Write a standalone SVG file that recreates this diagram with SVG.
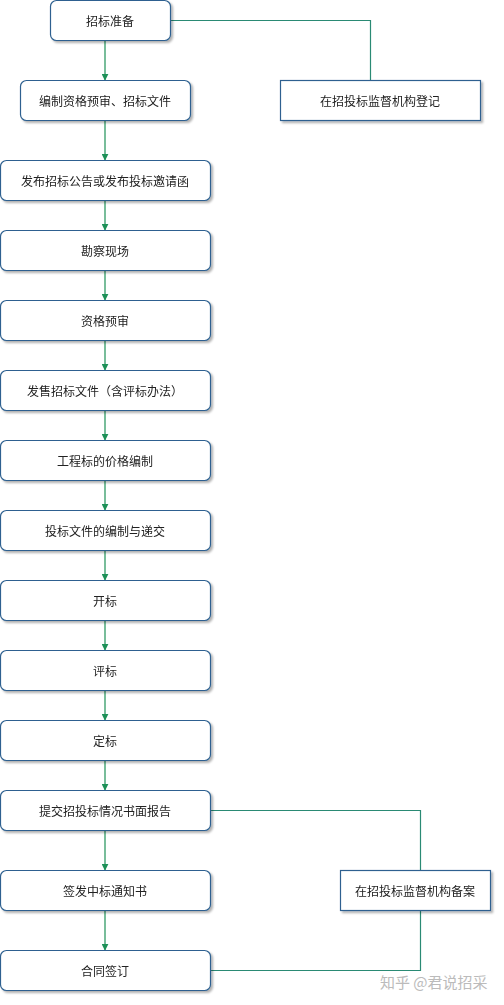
<svg xmlns="http://www.w3.org/2000/svg" width="504" height="1005" viewBox="0 0 504 1005">
<style>
.b{fill:#fff;stroke:#2f6190;stroke-width:1.2}
.t{font-family:"Noto Sans CJK SC","Liberation Sans",sans-serif;font-size:12px;fill:#222;text-anchor:middle;dominant-baseline:central}
.a{stroke:#1e9158;stroke-width:1.2;fill:none}
.s{stroke:#2a8a74;stroke-width:1.2;fill:none}
.w{font-family:"Noto Sans CJK SC",sans-serif;font-size:15px;fill:#bbb}
</style>
<defs>
<marker id="ar" viewBox="0 0 10 10" refX="9" refY="5" markerWidth="7" markerHeight="7" orient="auto" markerUnits="userSpaceOnUse"><path d="M0,0L10,5L0,10z" fill="#1e9158"/></marker>
<filter id="sh" x="-10%" y="-20%" width="120%" height="150%"><feDropShadow dx="2" dy="2" stdDeviation="1.2" flood-color="#000" flood-opacity="0.3"/></filter>
</defs>
<rect width="504" height="1005" fill="#fff"/>
<g id="connectors">
<line class="a" x1="105" y1="41" x2="105" y2="80" marker-end="url(#ar)"/>
<line class="a" x1="105" y1="121" x2="105" y2="160" marker-end="url(#ar)"/>
<line class="a" x1="105" y1="201" x2="105" y2="230" marker-end="url(#ar)"/>
<line class="a" x1="105" y1="271" x2="105" y2="300" marker-end="url(#ar)"/>
<line class="a" x1="105" y1="341" x2="105" y2="370" marker-end="url(#ar)"/>
<line class="a" x1="105" y1="411" x2="105" y2="440" marker-end="url(#ar)"/>
<line class="a" x1="105" y1="481" x2="105" y2="510" marker-end="url(#ar)"/>
<line class="a" x1="105" y1="551" x2="105" y2="580" marker-end="url(#ar)"/>
<line class="a" x1="105" y1="621" x2="105" y2="650" marker-end="url(#ar)"/>
<line class="a" x1="105" y1="691" x2="105" y2="720" marker-end="url(#ar)"/>
<line class="a" x1="105" y1="761" x2="105" y2="790" marker-end="url(#ar)"/>
<line class="a" x1="105" y1="831" x2="105" y2="870" marker-end="url(#ar)"/>
<line class="a" x1="105" y1="911" x2="105" y2="950" marker-end="url(#ar)"/>
<polyline class="s" points="171,20.5 370.5,20.5 370.5,80"/>
<polyline class="s" points="211,810.5 420.5,810.5 420.5,870"/>
<polyline class="s" points="420.5,911 420.5,970.5 211,970.5"/>
</g>
<g id="n1" filter="url(#sh)"><rect class="b" x="50.5" y="0.5" width="120" height="40" rx="6"/><text class="t" x="110" y="20.5">招标准备</text></g>
<g id="n2" filter="url(#sh)"><rect class="b" x="20.5" y="80.5" width="170" height="40" rx="6"/><text class="t" x="105" y="100.5">编制资格预审、招标文件</text></g>
<g id="r1" filter="url(#sh)"><rect class="b" x="280.5" y="80.5" width="200" height="40"/><text class="t" x="380" y="100.5">在招投标监督机构登记</text></g>
<g id="n3" filter="url(#sh)"><rect class="b" x="0.5" y="160.5" width="210" height="40" rx="6"/><text class="t" x="105" y="180.5">发布招标公告或发布投标邀请函</text></g>
<g id="n4" filter="url(#sh)"><rect class="b" x="0.5" y="230.5" width="210" height="40" rx="6"/><text class="t" x="105" y="250.5">勘察现场</text></g>
<g id="n5" filter="url(#sh)"><rect class="b" x="0.5" y="300.5" width="210" height="40" rx="6"/><text class="t" x="105" y="320.5">资格预审</text></g>
<g id="n6" filter="url(#sh)"><rect class="b" x="0.5" y="370.5" width="210" height="40" rx="6"/><text class="t" x="105" y="390.5">发售招标文件（含评标办法）</text></g>
<g id="n7" filter="url(#sh)"><rect class="b" x="0.5" y="440.5" width="210" height="40" rx="6"/><text class="t" x="105" y="460.5">工程标的价格编制</text></g>
<g id="n8" filter="url(#sh)"><rect class="b" x="0.5" y="510.5" width="210" height="40" rx="6"/><text class="t" x="105" y="530.5">投标文件的编制与递交</text></g>
<g id="n9" filter="url(#sh)"><rect class="b" x="0.5" y="580.5" width="210" height="40" rx="6"/><text class="t" x="105" y="600.5">开标</text></g>
<g id="n10" filter="url(#sh)"><rect class="b" x="0.5" y="650.5" width="210" height="40" rx="6"/><text class="t" x="105" y="670.5">评标</text></g>
<g id="n11" filter="url(#sh)"><rect class="b" x="0.5" y="720.5" width="210" height="40" rx="6"/><text class="t" x="105" y="740.5">定标</text></g>
<g id="n12" filter="url(#sh)"><rect class="b" x="0.5" y="790.5" width="210" height="40" rx="6"/><text class="t" x="105" y="810.5">提交招投标情况书面报告</text></g>
<g id="n13" filter="url(#sh)"><rect class="b" x="0.5" y="870.5" width="210" height="40" rx="6"/><text class="t" x="105" y="890.5">签发中标通知书</text></g>
<g id="n14" filter="url(#sh)"><rect class="b" x="0.5" y="950.5" width="210" height="40" rx="6"/><text class="t" x="105" y="970.5">合同签订</text></g>
<g id="r2" filter="url(#sh)"><rect class="b" x="340.5" y="870.5" width="150" height="40"/><text class="t" x="415" y="890.5">在招投标监督机构备案</text></g>
<text class="w" x="380" y="988">知乎 @君说招采</text>
</svg>
